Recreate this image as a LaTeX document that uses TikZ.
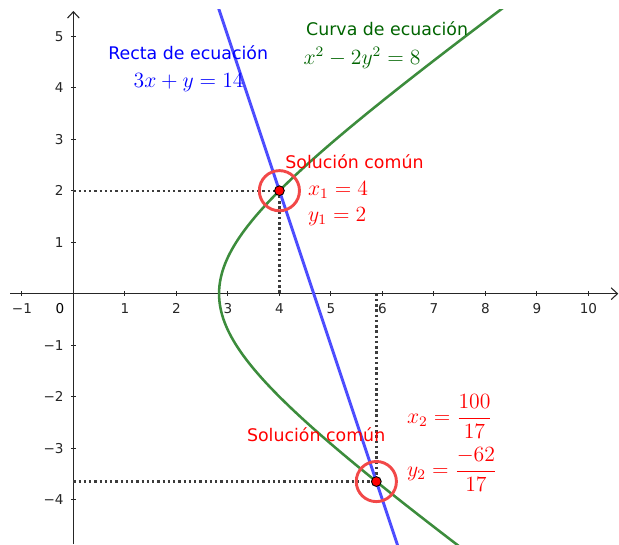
\documentclass[tikz,border=0pt]{standalone}
\usepackage{amsmath}
\usepackage{fontspec}
\newfontfamily\ggbfont{DejaVu Sans}
\usetikzlibrary{arrows.meta}
\definecolor{lineblue}{RGB}{77,77,255}
\definecolor{curvegreen}{RGB}{60,140,60}
\definecolor{textgreen}{RGB}{0,100,0}
\definecolor{solred}{RGB}{255,0,0}
\definecolor{circred}{RGB}{242,72,72}
\definecolor{dotgray}{RGB}{60,60,60}
\tikzset{
  axisline/.style={line width=0.6pt, black!85},
  tickmark/.style={line width=0.6pt, black!85},
  ticklabel/.style={font=\ggbfont\fontsize{7.5}{9}\selectfont, inner sep=0pt},
  dotline/.style={line width=1.3pt, dotgray, dash pattern=on 1.3pt off 1.6pt},
  sollabel/.style={font=\ggbfont\fontsize{9.6}{11}\selectfont, text=solred, inner sep=0pt},
  mathlabel/.style={font=\fontsize{12}{14}\selectfont, inner sep=0pt},
  solcircle/.style={line width=1.6pt, circred},
  solpoint/.style={draw=black, line width=0.5pt, fill=solred}
}
\begin{document}
\begin{tikzpicture}[x=1cm,y=1cm]
            \useasboundingbox (-1.425,-4.860) rectangle (10.594,5.703);
            % \clip (-1.23,-4.86) rectangle (10.60,5.51);

            % Marking origin and the two common solutions
            \coordinate (O) at (0,0);%
            \coordinate (S1) at (4,2);%
            \coordinate (S2) at (5.882353,-3.647059);%

            % Drawing axis x
            \draw [axisline, -{Straight Barb[length=3.5pt,width=6.5pt]}] (-1.23,0) -- (10.58,0);%

            % Drawing axis y
            \draw [axisline, -{Straight Barb[length=3.5pt,width=6.5pt]}] (0,-4.86) -- (0,5.49);%

            % Ticks on axis x
            \draw [tickmark] (-1,0.05) -- (-1,-0.05) node (tx-1) [ticklabel, anchor=north, yshift=-0.13cm] {−1};%
            \draw (-0.26,-0.05) node (tx0) [ticklabel, anchor=north, yshift=-0.13cm] {0};%
            \draw [tickmark] (1,0.05) -- (1,-0.05) node (tx1) [ticklabel, anchor=north, yshift=-0.13cm] {1};%
            \draw [tickmark] (2,0.05) -- (2,-0.05) node (tx2) [ticklabel, anchor=north, yshift=-0.13cm] {2};%
            \draw [tickmark] (3,0.05) -- (3,-0.05) node (tx3) [ticklabel, anchor=north, yshift=-0.13cm] {3};%
            \draw [tickmark] (4,0.05) -- (4,-0.05) node (tx4) [ticklabel, anchor=north, yshift=-0.13cm] {4};%
            \draw [tickmark] (5,0.05) -- (5,-0.05) node (tx5) [ticklabel, anchor=north, yshift=-0.13cm] {5};%
            \draw [tickmark] (6,0.05) -- (6,-0.05) node (tx6) [ticklabel, anchor=north, yshift=-0.13cm] {6};%
            \draw [tickmark] (7,0.05) -- (7,-0.05) node (tx7) [ticklabel, anchor=north, yshift=-0.13cm] {7};%
            \draw [tickmark] (8,0.05) -- (8,-0.05) node (tx8) [ticklabel, anchor=north, yshift=-0.13cm] {8};%
            \draw [tickmark] (9,0.05) -- (9,-0.05) node (tx9) [ticklabel, anchor=north, yshift=-0.13cm] {9};%
            \draw [tickmark] (10,0.05) -- (10,-0.05) node (tx10) [ticklabel, anchor=north, yshift=-0.13cm] {10};%

            % Ticks on axis y
            \draw [tickmark] (0.05,5) -- (-0.05,5) node (ty5) [ticklabel, anchor=east, xshift=-0.13cm] {5};%
            \draw [tickmark] (0.05,4) -- (-0.05,4) node (ty4) [ticklabel, anchor=east, xshift=-0.13cm] {4};%
            \draw [tickmark] (0.05,3) -- (-0.05,3) node (ty3) [ticklabel, anchor=east, xshift=-0.13cm] {3};%
            \draw [tickmark] (0.05,2) -- (-0.05,2) node (ty2) [ticklabel, anchor=east, xshift=-0.13cm] {2};%
            \draw [tickmark] (0.05,1) -- (-0.05,1) node (ty1) [ticklabel, anchor=east, xshift=-0.13cm] {1};%
            \draw [tickmark] (0.05,-1) -- (-0.05,-1) node (ty-1) [ticklabel, anchor=east, xshift=-0.13cm] {−1};%
            \draw [tickmark] (0.05,-2) -- (-0.05,-2) node (ty-2) [ticklabel, anchor=east, xshift=-0.13cm] {−2};%
            \draw [tickmark] (0.05,-3) -- (-0.05,-3) node (ty-3) [ticklabel, anchor=east, xshift=-0.13cm] {−3};%
            \draw [tickmark] (0.05,-4) -- (-0.05,-4) node (ty-4) [ticklabel, anchor=east, xshift=-0.13cm] {−4};%

            % Drawing dotted projections of S1
            \draw [dotline] (S1 -| O) -- (S1);%
            \draw [dotline] (S1) -- (S1 |- O);%

            % Drawing dotted projections of S2
            \draw [dotline] (S2 |- O) -- (S2);%
            \draw [dotline] (S2 -| O) -- (S2);%

            \begin{scope}
            \clip (-1.23,-4.86) rectangle (10.60,5.51);
            % Drawing line 3x + y = 14
            \draw [line width=1.6pt, lineblue] (2.5,6.5) -- (6.5,-5.5);%

            % Drawing curve x^2 - 2y^2 = 8
            \draw [line width=1.4pt, curvegreen] plot [domain=-5.2:6, samples=160, smooth, variable=\t] ({sqrt(8+2*\t*\t)},\t);%
            \end{scope}

            % Marking S1 by circle
            \draw [solcircle] (S1) circle (0.39);%
            \draw [solpoint] (S1) circle (0.095);%

            % Marking S2 by circle
            \draw [solcircle] (S2) circle (0.39);%
            \draw [solpoint] (S2) circle (0.095);%

            % Label of the line
            \draw (0.672,4.538) node (rectaTxt) [anchor=base west, font=\ggbfont\fontsize{9.6}{11}\selectfont, text=blue, inner sep=0pt] {Recta de ecuación};%
            \draw (1.163,4.008) node (rectaEq) [anchor=base west, mathlabel, text=blue] {$3x+y=14$};%

            % Label of the curve
            \draw (4.513,5.023) node (curvaTxt) [anchor=base west, font=\ggbfont\fontsize{9.6}{11}\selectfont, text=textgreen, inner sep=0pt] {Curva de ecuación};%
            \draw (4.464,4.454) node (curvaEq) [anchor=base west, mathlabel, text=textgreen] {$x^2-2y^2=8$};%

            % Label of S1
            \draw (4.109,2.435) node (solTxtA) [anchor=base west, sollabel] {Solución común};%
            \draw (4.55,1.903) node (solXA) [anchor=base west, mathlabel, text=solred] {$x_1=4$};%
            \draw (4.55,1.398) node (solYA) [anchor=base west, mathlabel, text=solred] {$y_1=2$};%

            % Label of S2
            \draw (3.365,-2.874) node (solTxtB) [anchor=base west, sollabel] {Solución común};%
            \draw (6.472,-2.385) node (solXB) [anchor=west, mathlabel, text=solred] {$x_2=\dfrac{100}{17}$};%
            \draw (6.472,-3.414) node (solYB) [anchor=west, mathlabel, text=solred] {$y_2=\dfrac{-62}{17}$};%
        \end{tikzpicture}
\end{document}
